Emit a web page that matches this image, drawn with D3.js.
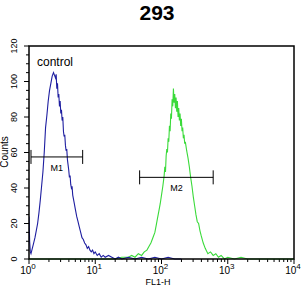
<!DOCTYPE html>
<html>
<head>
<meta charset="utf-8">
<script src="https://cdn.jsdelivr.net/npm/d3@7"></script>
<style>
  body { margin: 0; background: #fff; }
  text { font-family: "Liberation Sans", Arial, sans-serif; }
</style>
</head>
<body>
<div id="chart"></div>
<script>
// histogram data: log10(FL1-H) channel and counts
var controlLog = [0, 0.01, 0.02, 0.03, 0.05, 0.07, 0.09, 0.11, 0.13, 0.15, 0.17, 0.19, 0.21, 0.23, 0.25, 0.27, 0.29, 0.31, 0.33, 0.35, 0.37, 0.38, 0.40, 0.41, 0.42, 0.43, 0.44, 0.45, 0.46, 0.47, 0.48, 0.49, 0.50, 0.51, 0.52, 0.53, 0.54, 0.55, 0.56, 0.57, 0.58, 0.59, 0.60, 0.61, 0.62, 0.63, 0.64, 0.65, 0.66, 0.68, 0.70, 0.72, 0.74, 0.76, 0.78, 0.80, 0.82, 0.84, 0.86, 0.88, 0.90, 0.92, 0.94, 0.96, 0.98, 1.00, 1.03, 1.06, 1.09, 1.12, 1.15, 1.20, 1.25, 1.30, 1.35, 1.40, 1.50, 1.60, 1.70, 1.80, 1.90, 2.00, 2.10, 2.20, 2.30];
var controlCount = [24, 10, 4, 3, 6, 9, 12, 16, 20, 26, 33, 41, 49, 60, 74, 81, 89, 95, 99, 103, 105, 104, 102, 104, 96, 99, 91, 93, 86, 89, 82, 84, 78, 80, 72, 69, 70, 64, 61, 62, 56, 53, 50, 46, 47, 42, 40, 41, 36, 32, 28, 24, 21, 18, 15, 12, 11, 9, 8, 6, 7, 5, 4, 5, 3, 4, 2, 3, 1, 2, 1, 2, 1, 0, 1, 0, 1, 0, 1, 0, 1, 0, 1, 0, 0];

var sampleLog = [0, 1.30, 1.40, 1.50, 1.55, 1.60, 1.65, 1.70, 1.74, 1.78, 1.81, 1.84, 1.87, 1.90, 1.92, 1.94, 1.96, 1.98, 2.00, 2.02, 2.04, 2.05, 2.06, 2.07, 2.08, 2.09, 2.10, 2.11, 2.12, 2.13, 2.14, 2.15, 2.16, 2.17, 2.18, 2.19, 2.20, 2.21, 2.22, 2.23, 2.24, 2.25, 2.26, 2.27, 2.28, 2.29, 2.30, 2.31, 2.32, 2.33, 2.34, 2.35, 2.36, 2.38, 2.40, 2.42, 2.44, 2.46, 2.48, 2.50, 2.52, 2.54, 2.56, 2.58, 2.60, 2.63, 2.66, 2.70, 2.74, 2.78, 2.82, 2.86, 2.90, 2.95, 3.00, 3.10, 3.20, 3.30, 4.00];
var sampleCount = [0, 0, 1, 1, 2, 1, 3, 2, 4, 5, 7, 9, 12, 15, 19, 23, 27, 31, 36, 41, 47, 52, 49, 58, 62, 60, 68, 66, 75, 72, 82, 79, 90, 86, 96, 88, 93, 85, 91, 83, 89, 80, 85, 78, 82, 75, 79, 72, 74, 68, 70, 65, 66, 61, 57, 52, 46, 41, 35, 30, 25, 21, 20, 16, 13, 9, 6, 3, 4, 2, 3, 1, 2, 0, 1, 0, 1, 0, 0];

// marker gates: [startLog, endLog, level]
var gateNames = ["M1", "M2"];
var gateStart = [0.03, 1.67];
var gateEnd = [0.81, 2.78];
var gateLevel = [57.5, 46];

var yTicks = [0, 20, 40, 60, 80, 100, 120];
var xDecades = [0, 1, 2, 3, 4];

var width = 306, height = 286;
var margin = {top: 46, right: 12, bottom: 27, left: 29};

var svg = d3.select("#chart").append("svg")
    .attr("width", width)
    .attr("height", height);

var x = d3.scaleLinear()
    .domain([0, 4])
    .range([margin.left, width - margin.right]);

var y = d3.scaleLinear()
    .domain([0, 120])
    .range([height - margin.bottom, margin.top]);

svg.append("defs").append("clipPath")
    .attr("id", "plot")
    .append("rect")
    .attr("x", margin.left)
    .attr("y", margin.top - 2)
    .attr("width", x(4) - x(0))
    .attr("height", y(0) - y(120) + 3);

// title
svg.append("text")
    .attr("x", 157)
    .attr("y", 20)
    .attr("text-anchor", "middle")
    .style("font-size", "21px")
    .style("font-weight", "bold")
    .text("293");

// y ticks
var yMinor = d3.range(0, 121, 5);
svg.selectAll(".ytick")
    .data(yMinor)
    .enter().append("line")
    .attr("x1", margin.left)
    .attr("x2", (d) => d % 20 == 0 ? margin.left - 5 : margin.left - 3)
    .attr("y1", (d) => y(d))
    .attr("y2", (d) => y(d))
    .attr("stroke", "black")
    .attr("stroke-width", 1);

svg.selectAll(".ylab")
    .data(yTicks)
    .enter().append("text")
    .attr("transform", (d) => "translate(17," + y(d) + ") rotate(-90)")
    .attr("text-anchor", "middle")
    .style("font-size", "9px")
    .text((d) => d);

svg.append("text")
    .attr("transform", "translate(8,152) rotate(-90)")
    .attr("text-anchor", "middle")
    .style("font-size", "10px")
    .text("Counts");

// x ticks (log decades with minor ticks)
var xMinor = [];
xDecades.forEach(function(dec) {
    if (dec < 4) {
        for (var k = 2; k <= 9; k++) xMinor.push(dec + Math.log10(k));
    }
});

svg.selectAll(".xminor")
    .data(xMinor)
    .enter().append("line")
    .attr("x1", (d) => x(d))
    .attr("x2", (d) => x(d))
    .attr("y1", y(0))
    .attr("y2", y(0) + 3)
    .attr("stroke", "black");

svg.selectAll(".xmajor")
    .data(xDecades)
    .enter().append("line")
    .attr("x1", (d) => x(d))
    .attr("x2", (d) => x(d))
    .attr("y1", y(0))
    .attr("y2", y(0) + 5)
    .attr("stroke", "black");

var xlab = svg.selectAll(".xlab")
    .data(xDecades)
    .enter().append("text")
    .attr("x", (d) => x(d) - 1)
    .attr("y", 274)
    .attr("text-anchor", "middle")
    .style("font-size", "10px");
xlab.append("tspan").text("10");
xlab.append("tspan")
    .attr("dy", -5)
    .style("font-size", "8px")
    .text((d) => d);

svg.append("text")
    .attr("x", 158)
    .attr("y", 285)
    .attr("text-anchor", "middle")
    .style("font-size", "9px")
    .text("FL1-H");

// histograms
var line = d3.line()
    .x((d) => x(d[0]))
    .y((d) => y(d[1]));

var plot = svg.append("g").attr("clip-path", "url(#plot)");

plot.append("path")
    .datum(sampleLog.map((v, i) => [v, sampleCount[i]]))
    .attr("d", line)
    .attr("fill", "none")
    .attr("stroke", "#3ada3a")
    .attr("stroke-width", 1.1);

plot.append("path")
    .datum(controlLog.map((v, i) => [v, controlCount[i]]))
    .attr("d", line)
    .attr("fill", "none")
    .attr("stroke", "#1e1ea0")
    .attr("stroke-width", 1.1);

// frame
svg.append("rect")
    .attr("x", x(0))
    .attr("y", y(120))
    .attr("width", x(4) - x(0))
    .attr("height", y(0) - y(120))
    .attr("fill", "none")
    .attr("stroke", "black")
    .attr("stroke-width", 1.5);

// gates
var gate = svg.selectAll(".gate")
    .data(gateNames)
    .enter().append("g");

gate.append("line")
    .attr("x1", (d, i) => x(gateStart[i]))
    .attr("x2", (d, i) => x(gateEnd[i]))
    .attr("y1", (d, i) => y(gateLevel[i]))
    .attr("y2", (d, i) => y(gateLevel[i]))
    .attr("stroke", "black");

gate.append("line")
    .attr("x1", (d, i) => x(gateStart[i]))
    .attr("x2", (d, i) => x(gateStart[i]))
    .attr("y1", (d, i) => y(gateLevel[i]) - 7)
    .attr("y2", (d, i) => y(gateLevel[i]) + 7)
    .attr("stroke", "black");

gate.append("line")
    .attr("x1", (d, i) => x(gateEnd[i]))
    .attr("x2", (d, i) => x(gateEnd[i]))
    .attr("y1", (d, i) => y(gateLevel[i]) - 7)
    .attr("y2", (d, i) => y(gateLevel[i]) + 7)
    .attr("stroke", "black");

gate.append("text")
    .attr("x", (d, i) => (x(gateStart[i]) + x(gateEnd[i])) / 2)
    .attr("y", (d, i) => y(gateLevel[i]) + 14)
    .attr("text-anchor", "middle")
    .style("font-size", "9px")
    .text((d) => d);

svg.append("text")
    .attr("x", 37)
    .attr("y", 66)
    .style("font-size", "12px")
    .text("control");
</script>
</body>
</html>
